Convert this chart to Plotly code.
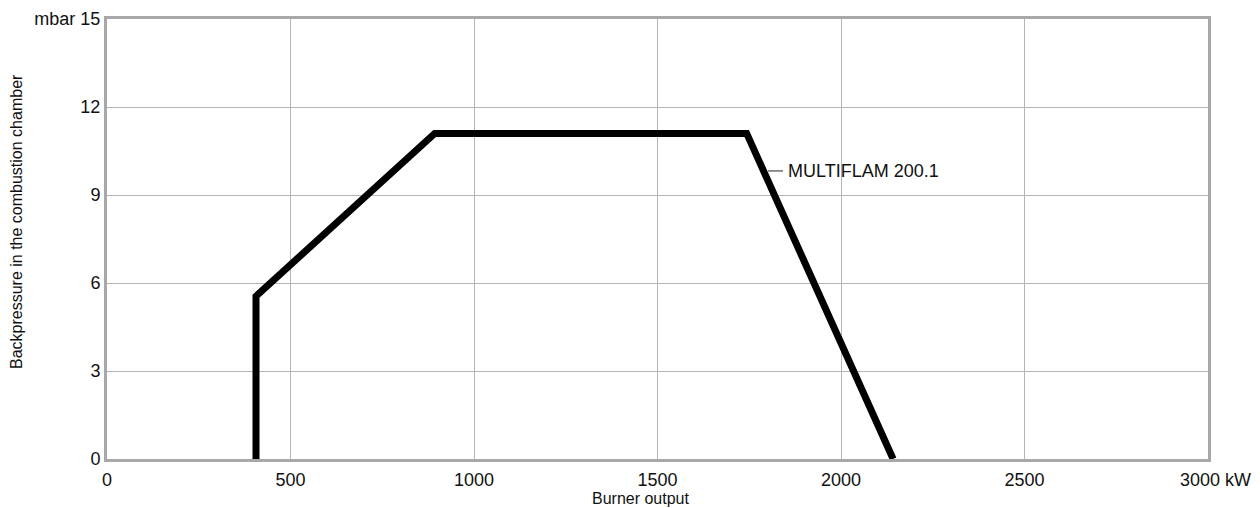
import plotly.graph_objects as go

# Data
burner_output_kw = [406, 406, 893, 1743, 2142]
backpressure_mbar = [0, 5.55, 11.1, 11.1, 0]
series_name = "MULTIFLAM 200.1"
label_x_kw = [1801, 1842]
label_y_mbar = 9.82

x_ticks = [0, 500, 1000, 1500, 2000, 2500, 3000]
x_ticktext = ["0", "500", "1000", "1500", "2000", "2500", "\u00a0\u00a0\u00a03000 kW"]
y_ticks = [0, 3, 6, 9, 12, 15]
y_ticktext = ["0", "3", "6", "9", "12", "mbar 15"]

FONT = "Liberation Sans, Arial, sans-serif"
GRID = "#b4b4b4"
BORDER = "#a8a8a8"
TXT = "#111111"

# page has an 8px body margin; compensate so the plot lands where the reference has it
OFF = 8
L, T, PW, PH = 107 - OFF, 19 - OFF, 1101, 440
W, H = 1260 - OFF, 508 - OFF

fig = go.Figure()
fig.add_trace(go.Scatter(
    x=burner_output_kw, y=backpressure_mbar, mode="lines",
    line=dict(color="black", width=7), name=series_name,
    showlegend=False, hoverinfo="skip",
))

# leader line + label
fig.add_shape(type="line", xref="x", yref="y",
              x0=label_x_kw[0], x1=label_x_kw[1], y0=label_y_mbar, y1=label_y_mbar,
              line=dict(color="#222", width=1))
fig.add_annotation(
    x=label_x_kw[1], y=label_y_mbar, xref="x", yref="y", text=series_name,
    showarrow=False, xanchor="left", yanchor="middle", xshift=3,
    font=dict(family=FONT, size=18, color=TXT),
)
# axis titles
fig.add_annotation(
    x=(641 - 107) / PW, y=0, xref="paper", yref="paper", text="Burner output",
    showarrow=False, xanchor="center", yanchor="middle", yshift=-39,
    font=dict(family=FONT, size=16, color=TXT),
)
fig.add_annotation(
    x=0, y=(459 - 222) / PH, xref="paper", yref="paper",
    text="Backpressure in the combustion chamber", showarrow=False,
    textangle=-90, xanchor="center", yanchor="middle", xshift=-90,
    font=dict(family=FONT, size=16, color=TXT),
)

fig.update_layout(
    width=W, height=H,
    margin=dict(l=L, r=W - L - PW, t=T, b=H - T - PH),
    plot_bgcolor="white", paper_bgcolor="white",
    font=dict(family=FONT, size=18, color=TXT),
    xaxis=dict(
        range=[0, 3000], tickvals=x_ticks, ticktext=x_ticktext, automargin=False,
        showgrid=True, gridcolor=GRID, gridwidth=1,
        showline=True, linecolor=BORDER, linewidth=3, mirror=True,
        zeroline=False, ticks="", ticklen=0, ticklabelstandoff=2,
        tickfont=dict(family=FONT, size=18, color=TXT),
    ),
    yaxis=dict(
        range=[0, 15], tickvals=y_ticks, ticktext=y_ticktext, automargin=False,
        showgrid=True, gridcolor=GRID, gridwidth=1,
        showline=True, linecolor=BORDER, linewidth=3, mirror=True,
        zeroline=False, ticks="", ticklen=0,
        tickfont=dict(family=FONT, size=18, color=TXT),
    ),
)

fig.write_html("out.html")
